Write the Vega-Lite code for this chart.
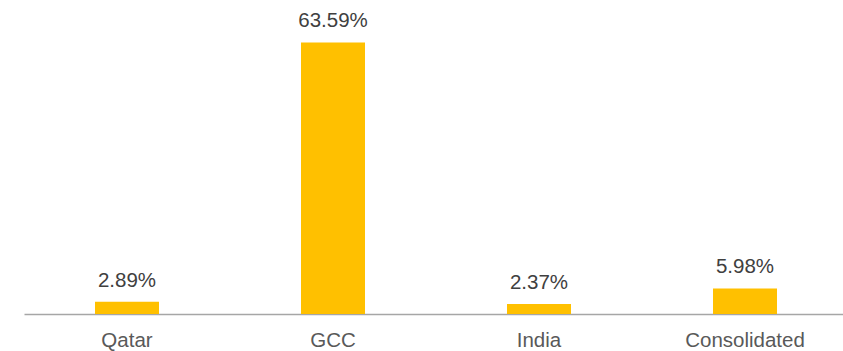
{
  "$schema": "https://vega.github.io/schema/vega-lite/v6.json",
  "width": 819,
  "height": 299,
  "autosize": {"type": "none"},
  "padding": {"left": 24, "top": 15, "right": 0, "bottom": 37},
  "background": "white",
  "config": {"view": {"stroke": null}},
  "data": {
    "values": [
      {"region": "Qatar", "value": 2.89, "label": "2.89%"},
      {"region": "GCC", "value": 63.59, "label": "63.59%"},
      {"region": "India", "value": 2.37, "label": "2.37%"},
      {"region": "Consolidated", "value": 5.98, "label": "5.98%"}
    ]
  },
  "encoding": {
    "x": {
      "field": "region",
      "type": "nominal",
      "sort": null,
      "scale": {"range": [0, 824], "paddingInner": 0, "paddingOuter": 0},
      "axis": {
        "title": null,
        "labelAngle": 0,
        "ticks": false,
        "domainColor": "#A6A6A6",
        "domainWidth": 1.5,
        "labelColor": "#595959",
        "labelFont": "Liberation Sans",
        "labelFontSize": 20.5,
        "labelPadding": 16,
        "grid": false
      }
    },
    "y": {
      "field": "value",
      "type": "quantitative",
      "scale": {"domain": [0, 70]},
      "axis": null
    }
  },
  "layer": [
    {"mark": {"type": "bar", "color": "#FFC000", "width": 64}},
    {
      "mark": {
        "type": "text",
        "baseline": "alphabetic",
        "dy": -15,
        "font": "Liberation Sans",
        "fontSize": 20.5,
        "color": "#404040"
      },
      "encoding": {"text": {"field": "label"}}
    }
  ]
}
